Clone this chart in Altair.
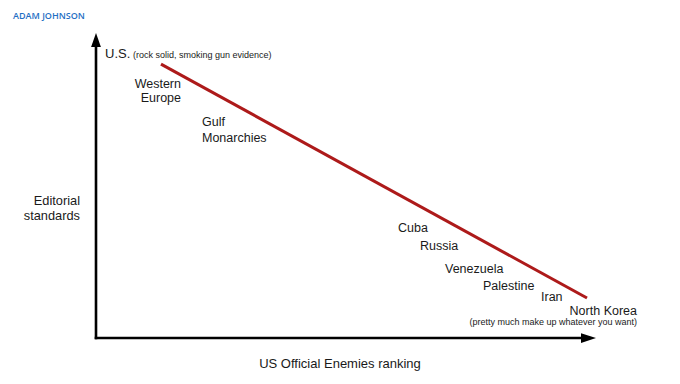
import altair as alt
import pandas as pd

# Conceptual chart: x = US official enemies ranking (0-100), y = editorial standards (0-100)
trend_rank = [13.0, 98.2]
trend_standards = [89.8, 13.1]

left_labels = ["Gulf", "Monarchies", "Cuba", "Russia", "Venezuela", "Palestine", "Iran"]
left_rank = [21.2, 21.2, 60.4, 64.8, 69.8, 77.4, 89.0]
left_standards = [69.5, 64.4, 34.8, 28.9, 21.3, 15.7, 12.1]

right_labels = ["Western", "Europe", "North Korea"]
right_rank = [17.0, 17.0, 108.2]
right_standards = [82.0, 77.4, 7.5]

top_label = ["U.S."]
top_rank = [1.8]
top_standards = [91.8]

note_left = ["(rock solid, smoking gun evidence)"]
note_left_rank = [7.4]
note_left_standards = [91.8]
note_right = ["(pretty much make up whatever you want)"]
note_right_rank = [108.2]
note_right_standards = [4.3]

x_title = ["US Official Enemies ranking"]
x_title_pos = [48.8]
x_title_y = [-9.8]
y_title = ["Editorial", "standards"]
y_title_x = [-3.2, -3.2]
y_title_y = [43.6, 38.7]

author = ["ADAM JOHNSON"]
author_x = [-16.6]
author_y = [107.0]

FONT = "Liberation Sans"
INK = "#1a1a1a"

xs = alt.Scale(domain=[0, 100], nice=False, zero=False)
ys = alt.Scale(domain=[0, 100], nice=False, zero=False)


def enc(df, x="x", y="y", **kw):
    return dict(
        x=alt.X(f"{x}:Q", scale=xs, axis=None),
        y=alt.Y(f"{y}:Q", scale=ys, axis=None),
        **kw,
    )


def text_layer(labels, xv, yv, size, align, color=INK, font=FONT, weight="normal", baseline="alphabetic"):
    df = pd.DataFrame({"label": labels, "x": xv, "y": yv})
    return alt.Chart(df).mark_text(
        align=align, baseline=baseline, fontSize=size, font=font,
        color=color, fontWeight=weight,
    ).encode(**enc(df, text="label:N"))


# axes as arrows
vaxis = pd.DataFrame({"x": [0], "y": [0], "y2": [100]})
haxis = pd.DataFrame({"x": [0], "x2": [100], "y": [0]})
v_rule = alt.Chart(vaxis).mark_rule(color="black", strokeWidth=2.6, y2Offset=10, strokeCap="square").encode(
    x=alt.X("x:Q", scale=xs, axis=None),
    y=alt.Y("y:Q", scale=ys, axis=None),
    y2="y2:Q",
)
h_rule = alt.Chart(haxis).mark_rule(color="black", strokeWidth=2.6, x2Offset=-10, strokeCap="square").encode(
    x=alt.X("x:Q", scale=xs, axis=None),
    x2="x2:Q",
    y=alt.Y("y:Q", scale=ys, axis=None),
)
up_head = alt.Chart(pd.DataFrame({"x": [0], "y": [100]})).mark_point(
    shape="M0,-1L-0.7,1L0.7,1Z", size=196, filled=True, color="black", opacity=1, yOffset=7, strokeWidth=0
).encode(**enc(None))
right_head = alt.Chart(pd.DataFrame({"x": [100], "y": [0]})).mark_point(
    shape="M1,0L-1,-0.65L-1,0.65Z", size=225, filled=True, color="black", opacity=1, xOffset=-7.5, strokeWidth=0
).encode(**enc(None))

trend = alt.Chart(pd.DataFrame({"x": trend_rank, "y": trend_standards})).mark_line(
    color="#ad1a1a", strokeWidth=3
).encode(**enc(None))

layers = [
    v_rule, h_rule, up_head, right_head, trend,
    text_layer(left_labels, left_rank, left_standards, 12.5, "left"),
    text_layer(right_labels, right_rank, right_standards, 12.5, "right"),
    text_layer(top_label, top_rank, top_standards, 13, "left"),
    text_layer(note_left, note_left_rank, note_left_standards, 9, "left"),
    text_layer(note_right, note_right_rank, note_right_standards, 9, "right"),
    text_layer(x_title, x_title_pos, x_title_y, 13, "center"),
    text_layer(y_title, y_title_x, y_title_y, 12.8, "right"),
    text_layer(author, author_x, author_y, 9, "left", color="#1f6fc4", font="Open Sans", weight=600, baseline="top"),
]

chart = alt.layer(*layers).properties(
    width=500,
    height=305,
    padding={"left": 88, "top": 25, "right": 76, "bottom": 38},
    autosize=alt.AutoSizeParams(type="none"),
    background="white",
).configure_view(stroke=None)

chart.save("out.html", embed_options={"renderer": "svg", "actions": False})
